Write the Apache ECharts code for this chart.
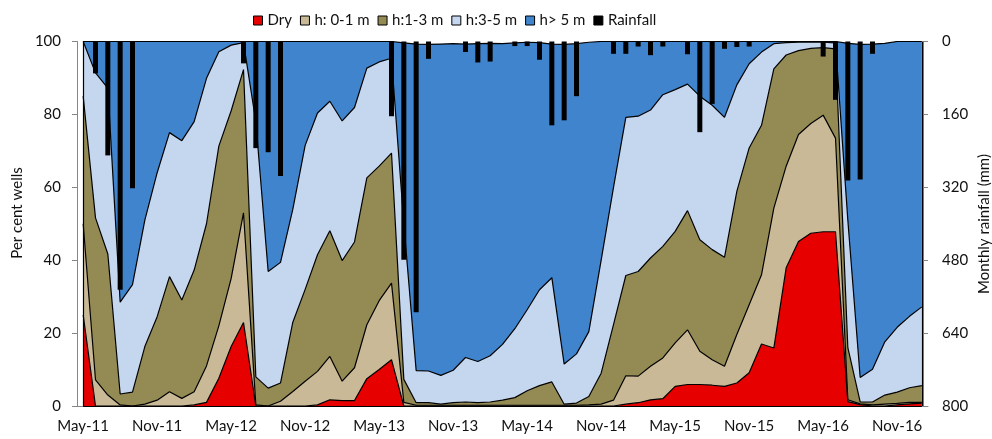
<!DOCTYPE html>
<html><head><meta charset="utf-8">
<script src="https://cdn.jsdelivr.net/npm/echarts@6/dist/echarts.min.js"></script>
<style>html,body{margin:0;padding:0;background:#fff}#c{width:992px;height:439px}</style>
</head><body><div id="c"></div>
<script>
const categories = [
 'May-11','Jun-11','Jul-11','Aug-11','Sep-11','Oct-11','Nov-11','Dec-11','Jan-12','Feb-12','Mar-12','Apr-12',
 'May-12','Jun-12','Jul-12','Aug-12','Sep-12','Oct-12','Nov-12','Dec-12','Jan-13','Feb-13','Mar-13','Apr-13',
 'May-13','Jun-13','Jul-13','Aug-13','Sep-13','Oct-13','Nov-13','Dec-13','Jan-14','Feb-14','Mar-14','Apr-14',
 'May-14','Jun-14','Jul-14','Aug-14','Sep-14','Oct-14','Nov-14','Dec-14','Jan-15','Feb-15','Mar-15','Apr-15',
 'May-15','Jun-15','Jul-15','Aug-15','Sep-15','Oct-15','Nov-15','Dec-15','Jan-16','Feb-16','Mar-16','Apr-16',
 'May-16','Jun-16','Jul-16','Aug-16','Sep-16','Oct-16','Nov-16','Dec-16','Jan-17'
];
const dry = [25,0,0,0,0,0,0,0,0,0.3, 1.0,7.6,16.3,22.9,0,0,0,0,0,0.3, 1.7,1.5,1.5,7.5,10.0,12.7,0,0,0,0,
 0,0,0,0,0,0,0,0,0,0, 0,0,0,0,0.5,0.9,1.7,2.0,5.4,5.9, 5.9,5.7,5.4,6.3,9.1,17.0,15.9,37.9,45.1,47.4,
 47.8,47.8,1.2,0.4,0,0,0.3,0.6,0.8];
const h01 = [25,7.2,3.0,0.3,0,0.5,1.6,3.9,2.1,3.6, 10.0,14.4,18.7,30.1,0.3,0,1.3,4.0,6.8,9.2,
 11.9,5.3,9.0,14.8,18.9,21.0,1.0,0.2,0.2,0.2, 0.2,0.2,0.2,0.2,0.2,0.2,0.2,0.2,0.2,0.2,
 0.2,0.3,0.5,1.6,7.8,7.3,9.2,11.2,11.9,15.0, 9.1,7.0,5.5,13.3,18.7,19.0,38.4,27.9,29.4,30.1,
 32.0,25.7,0.5,0.2,0.3,0.5,0.4,0.4,0.2];
const h13 = [35,44.4,38.7,3.0,3.8,15.8,22.9,31.6,27.0,33.4, 39.0,49.3,46.0,39.3,7.7,4.9,5.0,19.0,25.2,32.0,
 34.5,33.1,34.5,40.3,36.9,35.7,6.3,0.7,0.7,0.3, 0.7,0.9,0.7,0.9,1.4,2.1,4.0,5.4,6.4,0.3,
 0.6,2.3,8.5,20.7,27.5,28.7,29.7,30.6,30.6,32.7, 30.6,30.2,29.9,39.3,43.0,41.0,38.2,30.5,23.0,20.6,
 18.5,24.5,14.3,0.5,0.8,2.5,3.1,4.0,4.6];
const h35 = [15,39.8,45.5,25.2,29.5,34.7,39.5,39.5,43.7,40.7, 39.9,25.9,18.0,7.4,70.0,32.0,33.1,31.0,39.5,38.9,
 35.5,38.3,36.9,30.1,28.6,26.0,42.7,8.8,8.7,7.9, 8.9,12.2,11.3,12.7,15.3,18.9,22.2,26.3,28.6,11.0,
 13.5,17.8,31.0,37.7,43.4,42.6,40.6,41.6,38.9,34.7, 39.4,39.6,38.4,29.2,23.1,20.1,6.9,3.4,2.3,1.8,
 1.5,1.6,35.0,6.7,9.0,14.6,17.8,19.6,21.6];
const h5 = [0,8.6,12.8,71.5,66.7,49,36,25,27.2,22, 10.1,2.8,1.0,0.3,22.0,63.1,60.6,46.0,28.5,19.6,
 16.4,21.8,18.1,7.3,5.6,4.6,49.6,89.6,89.6,90.9, 89.6,86.0,87.2,85.7,82.5,78.4,73.4,67.8,64.1,87.7,
 85.1,79.4,60.0,40.0,20.8,20.5,18.8,14.6,13.2,11.7, 15.0,17.5,20.8,11.9,6.1,2.9,0.6,0.3,0.2,0.1,
 0.2,0.4,48.5,91.4,89.2,81.9,78.4,75.4,72.8];
const rainfall = [0,70,250,545,322,0,0,0,0,0, 0,0,0,48,234,243,295,0,0,0,
 0,0,0,0,0,164,479,594,38,0, 0,23,46,44,0,10,10,40,184,173,
 120,0,0,27,27,11,30,11,0,28, 199,137,16,12,11,0,0,0,0,0,
 33,128,305,303,27,0,0,0,0];
const leftTicks = [0,20,40,60,80,100];
const rightTicks = [0,160,320,480,640,800];

const FONT = 'Lato';
const AX = '#868686';
const colors = {dry:'#E60000', h01:'#C9B996', h13:'#948A54', h35:'#C5D6EF', h5:'#3F84CD'};
const firstCat = categories[0], lastCat = categories[categories.length-1];
const yMin = leftTicks[0], yMax = leftTicks[leftTicks.length-1];

function area(name, data, color, extra){
  return Object.assign({name, type:'line', stack:'wells', data, symbol:'none', smooth:false,
    lineStyle:{color:'#000', width:1.2}, itemStyle:{color}, areaStyle:{color, opacity:1}}, extra||{});
}
const chart = echarts.init(document.getElementById('c'), null, {renderer:'canvas'});
chart.setOption({
  animation:false,
  textStyle:{fontFamily:FONT},
  grid:{left:77, top:41.5, width:851, height:364.5, containLabel:false},
  legend:{left:248, top:8, itemWidth:9, itemHeight:9, itemGap:8, icon:'rect',
    textStyle:{fontFamily:FONT, fontSize:15, color:'#111'},
    data:[
      {name:'Dry', itemStyle:{color:colors.dry, borderColor:'#000', borderWidth:1}},
      {name:'h: 0-1 m', itemStyle:{color:colors.h01, borderColor:'#000', borderWidth:1}},
      {name:'h:1-3 m', itemStyle:{color:colors.h13, borderColor:'#000', borderWidth:1}},
      {name:'h:3-5 m', itemStyle:{color:colors.h35, borderColor:'#000', borderWidth:1}},
      {name:'h> 5 m', itemStyle:{color:colors.h5, borderColor:'#000', borderWidth:1}},
      {name:'Rainfall', itemStyle:{color:'#000', borderColor:'#000', borderWidth:1}}
    ]},
  xAxis:{type:'category', data:categories, boundaryGap:true,
    axisLine:{lineStyle:{color:AX}},
    axisTick:{interval:5, length:6, lineStyle:{color:AX}},
    axisLabel:{interval:5, margin:13, fontFamily:FONT, fontSize:15, color:'#111'}},
  yAxis:[
    {type:'value', min:yMin, max:yMax, interval:leftTicks[1]-leftTicks[0],
      splitLine:{show:false}, axisLine:{show:true, lineStyle:{color:AX}},
      axisTick:{show:true, length:5, lineStyle:{color:AX}},
      axisLabel:{margin:16, fontFamily:FONT, fontSize:15, color:'#111'}},
    {type:'value', position:'right', offset:-5, inverse:true,
      min:rightTicks[0], max:rightTicks[rightTicks.length-1], interval:rightTicks[1]-rightTicks[0],
      splitLine:{show:false}, axisLine:{show:true, lineStyle:{color:AX}},
      axisTick:{show:true, length:5, lineStyle:{color:AX}},
      axisLabel:{margin:19, fontFamily:FONT, fontSize:15, color:'#111'}}
  ],
  graphic:[
    {type:'text', x:17, y:213, rotation:Math.PI/2,
      style:{text:'Per cent wells', font:'15px Lato', fill:'#111', align:'center', verticalAlign:'middle', textAlign:'center', textVerticalAlign:'middle'}},
    {type:'text', x:984, y:224, rotation:Math.PI/2,
      style:{text:'Monthly rainfall (mm)', font:'15px Lato', fill:'#111', align:'center', verticalAlign:'middle', textAlign:'center', textVerticalAlign:'middle'}}
  ],
  series:[
    area('Dry', dry, colors.dry),
    area('h: 0-1 m', h01, colors.h01),
    area('h:1-3 m', h13, colors.h13),
    area('h:3-5 m', h35, colors.h35),
    area('h> 5 m', h5, colors.h5, {
      markLine:{silent:true, symbol:'none', label:{show:false},
        lineStyle:{color:'#000', width:1.2, type:'solid'},
        data:[
          [{coord:[firstCat, yMin]}, {coord:[firstCat, yMax]}],
          [{coord:[lastCat, yMin]}, {coord:[lastCat, yMax]}],
          [{coord:[firstCat, yMin]}, {coord:[lastCat, yMin]}]
        ]}
    }),
    {name:'Rainfall', type:'bar', yAxisIndex:1, data:rainfall, barWidth:5, z:10,
      itemStyle:{color:'#000'}}
  ]
});
</script></body></html>
